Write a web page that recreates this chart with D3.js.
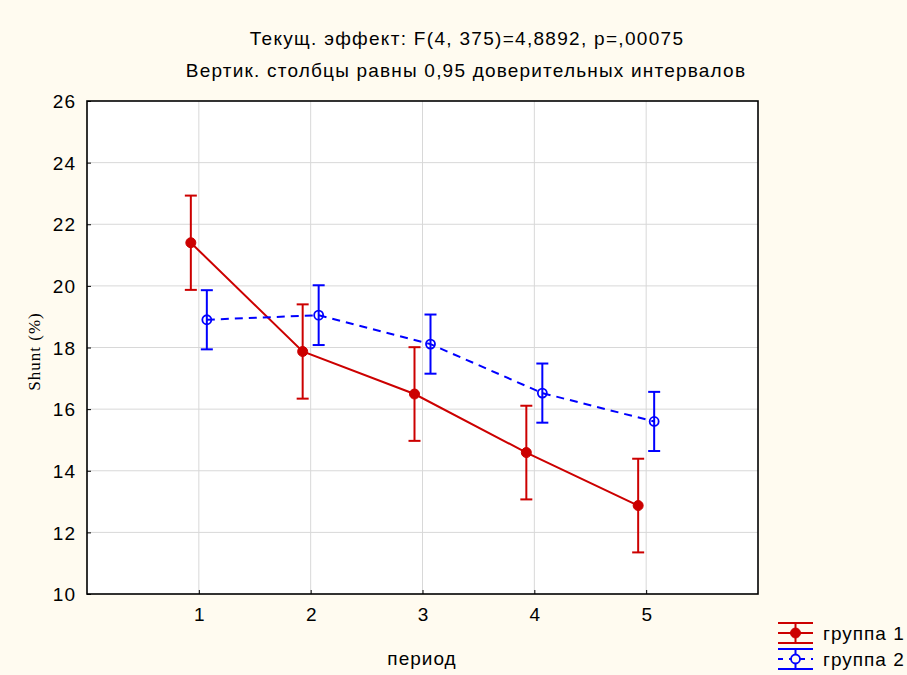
<!DOCTYPE html>
<html>
<head>
<meta charset="utf-8">
<script src="https://cdn.jsdelivr.net/npm/d3@7"></script>
<style>
  html, body { margin: 0; padding: 0; background: #fffbf0; }
  svg { display: block; }
  text { font-family: "Liberation Sans", Arial, sans-serif; fill: #000; }
</style>
</head>
<body>
<svg id="chart" width="907" height="675"></svg>
<script>
// Periods along the x axis
const periods = [1, 2, 3, 4, 5];
// Group means (Shunt, %)
const group1Means = [21.4, 17.87, 16.49, 14.59, 12.87];
const group2Means = [18.9, 19.05, 18.11, 16.52, 15.6];
// Half-widths of the 0.95 confidence intervals
const group1CI = [1.53, 1.53, 1.52, 1.52, 1.52];
const group2CI = [0.96, 0.97, 0.96, 0.96, 0.96];
// Axis ticks
const yTicks = [10, 12, 14, 16, 18, 20, 22, 24, 26];
const seriesNames = ["группа 1", "группа 2"];

const svg = d3.select("#chart");
const plot = { left: 87, top: 101, right: 758, bottom: 594 };
const FONT = "19px";
const SPACING = "1px";

const x = d3.scaleLinear().domain([0, 6]).range([plot.left, plot.right]);
const y = d3.scaleLinear().domain([10, 26]).range([plot.bottom, plot.top]);

// plot background
svg.append("rect")
  .attr("x", plot.left).attr("y", plot.top)
  .attr("width", plot.right - plot.left).attr("height", plot.bottom - plot.top)
  .attr("fill", "#ffffff");

// grid lines
const grid = svg.append("g").attr("stroke", "#d8d8d8").attr("stroke-width", 1);
grid.selectAll("line.h").data(yTicks.slice(1, -1)).join("line")
  .attr("x1", plot.left).attr("x2", plot.right)
  .attr("y1", d => y(d)).attr("y2", d => y(d));
grid.selectAll("line.v").data(periods).join("line")
  .attr("y1", plot.top).attr("y2", plot.bottom)
  .attr("x1", d => x(d)).attr("x2", d => x(d));

// axes
const yAxis = d3.axisLeft(y).tickValues(yTicks).tickSize(-4).tickPadding(11).tickFormat(d3.format("d"));
const gy = svg.append("g").attr("transform", `translate(${plot.left},0)`).call(yAxis);
gy.select(".domain").remove();
gy.selectAll("text").style("font-size", FONT).style("letter-spacing", SPACING).attr("dy", "0.35em");
gy.selectAll("line").attr("stroke", "#000");

const xAxis = d3.axisBottom(x).tickValues(periods).tickSize(-4).tickPadding(14).tickFormat(d3.format("d"));
const gx = svg.append("g").attr("transform", `translate(0,${plot.bottom})`).call(xAxis);
gx.select(".domain").remove();
gx.selectAll("text").style("font-size", FONT);
gx.selectAll("line").attr("stroke", "#000");

// frame
svg.append("rect")
  .attr("x", plot.left).attr("y", plot.top)
  .attr("width", plot.right - plot.left).attr("height", plot.bottom - plot.top)
  .attr("fill", "none").attr("stroke", "#000").attr("stroke-width", 1.6);

// series
const series = [
  { means: group1Means, ci: group1CI, color: "#cc0000", offset: -8, dash: null, filled: true },
  { means: group2Means, ci: group2CI, color: "#0000ff", offset: 8, dash: "8,6", filled: false }
];

const capHalf = 6;
series.forEach(s => {
  const pts = periods.map((p, i) => ({ px: x(p) + s.offset, m: s.means[i], c: s.ci[i] }));
  const g = svg.append("g");
  g.append("path")
    .attr("d", d3.line().x(d => d.px).y(d => y(d.m))(pts))
    .attr("fill", "none").attr("stroke", s.color).attr("stroke-width", 2)
    .attr("stroke-dasharray", s.dash);
  const eb = g.selectAll("g.eb").data(pts).join("g").attr("stroke", s.color).attr("stroke-width", 2);
  eb.append("line").attr("x1", d => d.px).attr("x2", d => d.px)
    .attr("y1", d => y(d.m - d.c)).attr("y2", d => y(d.m + d.c));
  eb.append("line").attr("x1", d => d.px - capHalf).attr("x2", d => d.px + capHalf)
    .attr("y1", d => y(d.m + d.c)).attr("y2", d => y(d.m + d.c));
  eb.append("line").attr("x1", d => d.px - capHalf).attr("x2", d => d.px + capHalf)
    .attr("y1", d => y(d.m - d.c)).attr("y2", d => y(d.m - d.c));
  g.selectAll("circle").data(pts).join("circle")
    .attr("cx", d => d.px).attr("cy", d => y(d.m))
    .attr("r", s.filled ? 5 : 4.5)
    .attr("fill", s.filled ? s.color : "none")
    .attr("stroke", s.color).attr("stroke-width", s.filled ? 1 : 1.8);
});

// titles
svg.append("text").attr("x", 467).attr("y", 45).attr("text-anchor", "middle")
  .style("font-size", FONT).style("letter-spacing", "1.3px")
  .text("Текущ. эффект: F(4, 375)=4,8892, p=,00075");
svg.append("text").attr("x", 466).attr("y", 77).attr("text-anchor", "middle")
  .style("font-size", FONT).style("letter-spacing", "1.2px")
  .text("Вертик. столбцы равны 0,95 доверительных интервалов");

// axis titles
svg.append("text").attr("x", 422).attr("y", 665).attr("text-anchor", "middle")
  .style("font-size", FONT).style("letter-spacing", SPACING).text("период");
svg.append("text")
  .attr("transform", `translate(40,${(plot.top + plot.bottom) / 2 + 4}) rotate(-90)`)
  .attr("text-anchor", "middle")
  .style("font-family", "'Liberation Serif', 'Times New Roman', serif")
  .style("font-size", "17px").style("letter-spacing", "1px").text("Shunt (%)");

// legend
const legend = svg.append("g");
series.forEach((s, i) => {
  const cy = 633 + i * 26;
  const lg = legend.append("g").attr("stroke", s.color).attr("stroke-width", 2);
  lg.append("line").attr("x1", 778).attr("x2", 813).attr("y1", cy - 10).attr("y2", cy - 10);
  lg.append("line").attr("x1", 778).attr("x2", 813).attr("y1", cy + 10).attr("y2", cy + 10);
  lg.append("line").attr("x1", 795.5).attr("x2", 795.5).attr("y1", cy - 10).attr("y2", cy + 10);
  lg.append("line").attr("x1", 778).attr("x2", 813).attr("y1", cy).attr("y2", cy)
    .attr("stroke-dasharray", s.dash ? "5,6" : null);
  lg.append("circle").attr("cx", 795.5).attr("cy", cy).attr("r", s.filled ? 5 : 4.5)
    .attr("fill", s.filled ? s.color : "#fffbf0").attr("stroke-width", s.filled ? 1 : 1.8);
  legend.append("text").attr("x", 823).attr("y", cy + 7)
    .style("font-size", FONT).style("letter-spacing", SPACING).text(seriesNames[i]);
});
</script>
</body>
</html>
